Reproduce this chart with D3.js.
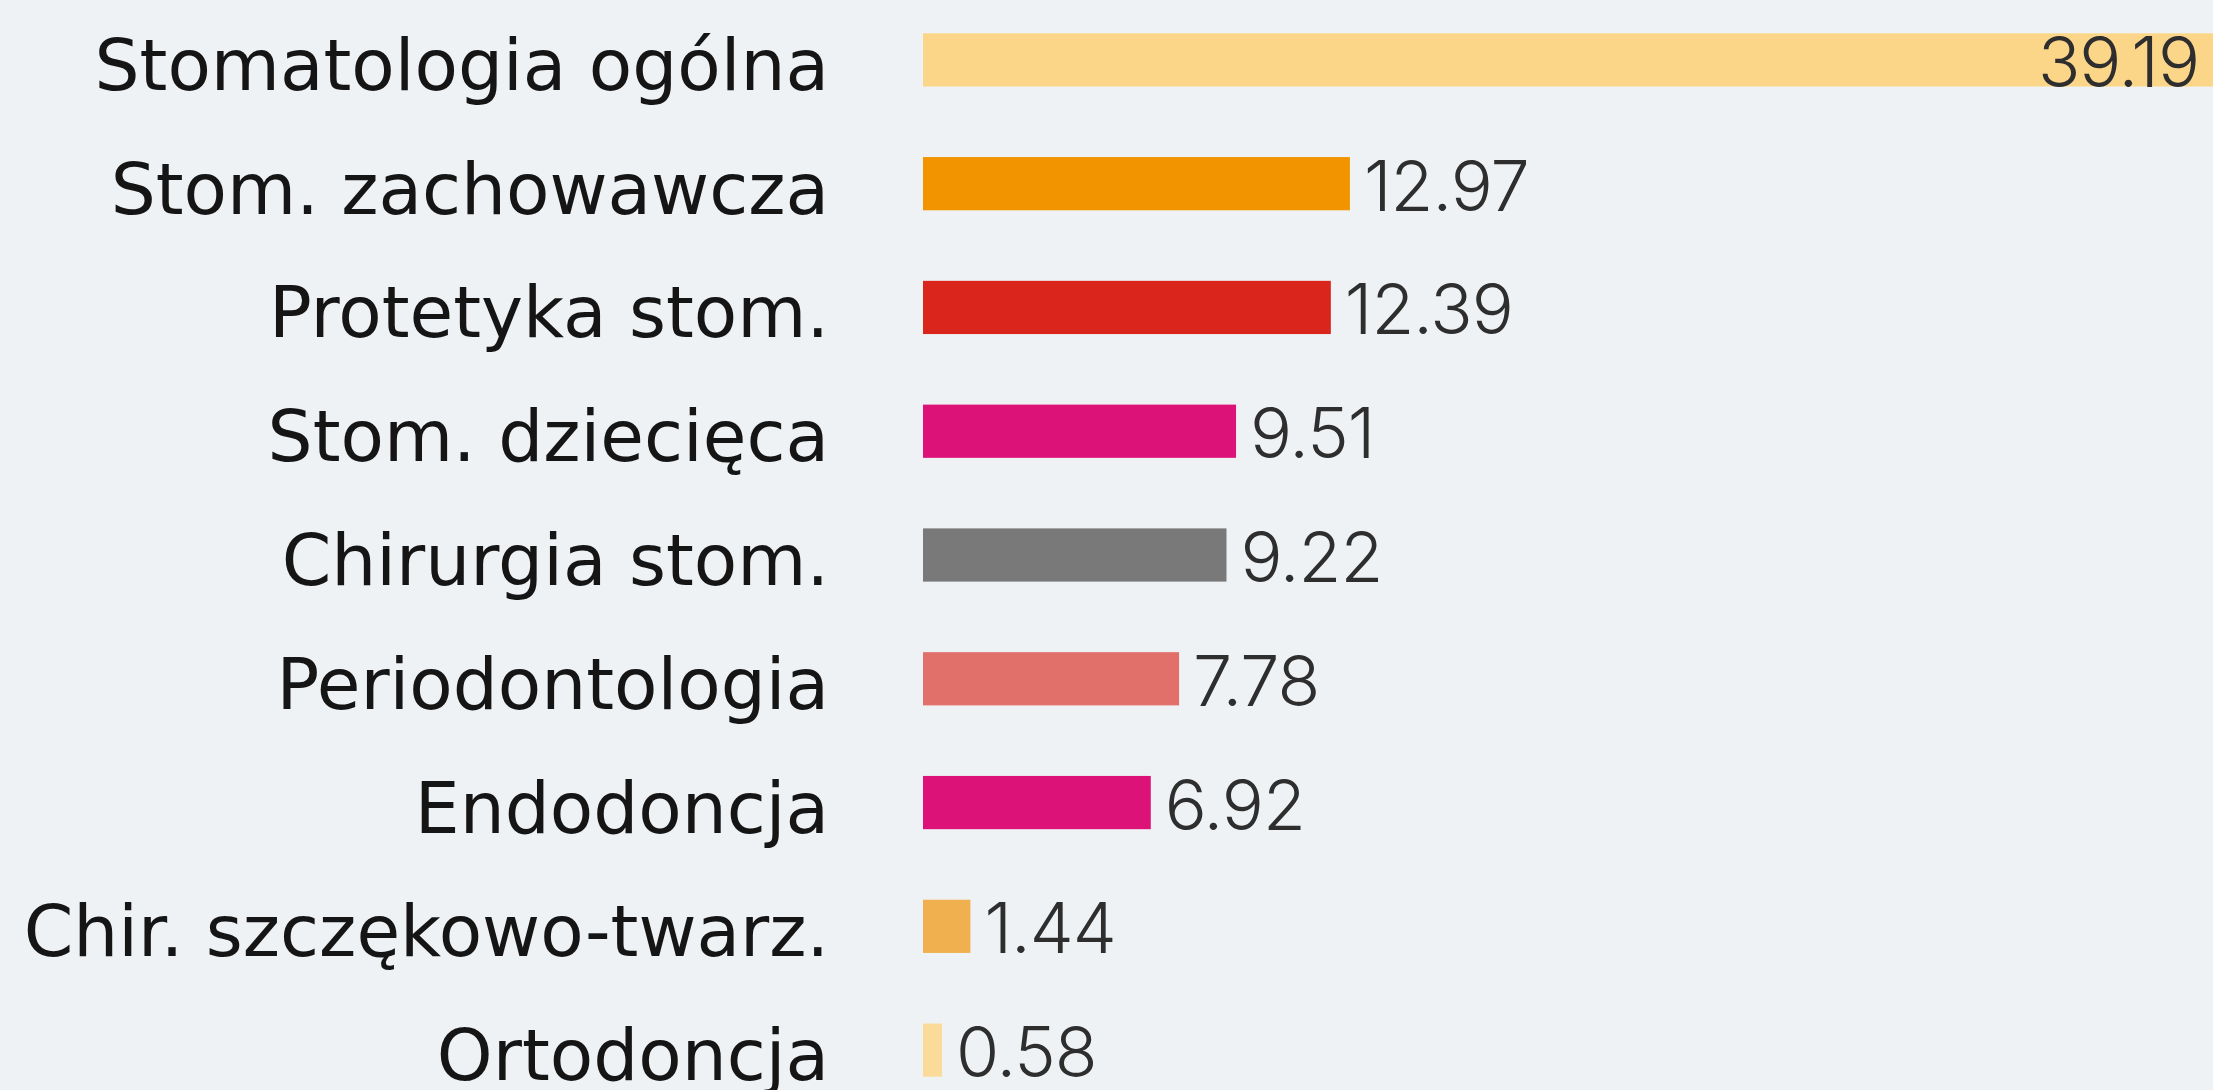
<!DOCTYPE html>
<html>
<head>
<meta charset="utf-8">
<script src="https://cdn.jsdelivr.net/npm/d3@7"></script>
<style>
    body { margin: 0; background: #eff2f4; }
    svg { display: block; }
    .cat { font-family: "DejaVu Sans", sans-serif; font-weight: 400; fill: #151515; }
    .val { font-family: Inter, sans-serif; font-weight: 300; fill: #2e2e2e; letter-spacing: -1px; }
</style>
</head>
<body>
<div id="chart"></div>
<script>
var categories = ["Stomatologia ogólna", "Stom. zachowawcza", "Protetyka stom.", "Stom. dziecięca",
                  "Chirurgia stom.", "Periodontologia", "Endodoncja", "Chir. szczękowo-twarz.", "Ortodoncja"];
var values = [39.19, 12.97, 12.39, 9.51, 9.22, 7.78, 6.92, 1.44, 0.58];
var labels = ["39.19", "12.97", "12.39", "9.51", "9.22", "7.78", "6.92", "1.44", "0.58"];
var colors = ["#fcd688", "#f29400", "#da251d", "#dd1278", "#797979", "#e2706a", "#dd1278", "#f0b050", "#fbdb9a"];

function init() {
    var w = 2213;
    var h = 1090;

    var svg = d3.select("#chart")
                .append("svg")
                .attr("width", w)
                .attr("height", h);

    var xScale = d3.scaleLinear()
                   .domain([0, d3.max(values)])
                   .range([923, 2213]);

    var yScale = d3.scaleBand()
                   .domain(categories)
                   .range([-2, 1112])
                   .paddingInner(0.57)
                   .paddingOuter(0.285);

    var rows = svg.selectAll("g.row")
                  .data(categories)
                  .enter()
                  .append("g")
                  .attr("class", "row");

    rows.append("rect")
        .attr("x", xScale(0))
        .attr("y", function(d) { return yScale(d); })
        .attr("width", function(d, i) { return xScale(values[i]) - xScale(0); })
        .attr("height", yScale.bandwidth())
        .attr("fill", function(d, i) { return colors[i]; });

    //category names on the left
    rows.append("text")
        .attr("class", "cat")
        .attr("x", 829)
        .attr("y", function(d) { return yScale(d) + yScale.bandwidth() / 2 + 30; })
        .attr("text-anchor", "end")
        .style("font-size", "71px")
        .text(function(d) { return d; });

    //value labels, biggest one sits inside its bar
    rows.append("text")
        .attr("class", "val")
        .attr("x", function(d, i) {
            return i == 0 ? xScale(values[i]) - 14 : xScale(values[i]) + 14;
        })
        .attr("y", function(d) { return yScale(d) + yScale.bandwidth() / 2 + 27; })
        .attr("text-anchor", function(d, i) { return i == 0 ? "end" : "start"; })
        .style("font-size", "70px")
        .text(function(d, i) { return labels[i]; });
}
window.onload = init;
</script>
</body>
</html>
